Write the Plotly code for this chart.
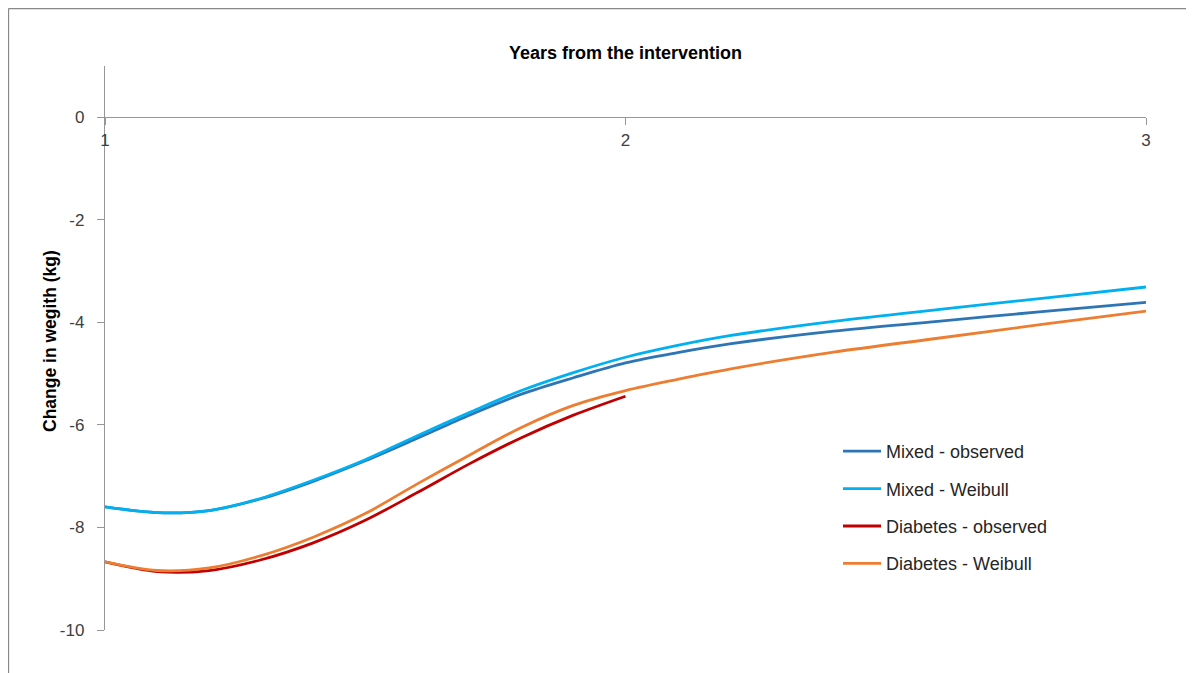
import plotly.graph_objects as go

# ---- data ----
x_full = [1.0, 1.1, 1.2, 1.3, 1.4, 1.5, 1.6, 1.7, 1.8, 1.9, 2.0, 2.1, 2.2, 2.4, 2.6, 2.8, 3.0]
x_half = [1.0, 1.1, 1.2, 1.3, 1.4, 1.5, 1.6, 1.7, 1.8, 1.9, 2.0]

mixed_observed = [-7.60, -7.71, -7.67, -7.44, -7.10, -6.70, -6.26, -5.81, -5.40, -5.08, -4.79,
                  -4.59, -4.42, -4.17, -3.98, -3.79, -3.61]
mixed_weibull = [-7.60, -7.71, -7.67, -7.43, -7.08, -6.68, -6.21, -5.76, -5.33, -4.98, -4.68,
                 -4.45, -4.26, -3.98, -3.75, -3.53, -3.31]
diabetes_observed = [-8.67, -8.86, -8.84, -8.63, -8.30, -7.86, -7.32, -6.76, -6.25, -5.81, -5.44]
diabetes_weibull = [-8.67, -8.84, -8.79, -8.55, -8.19, -7.73, -7.15, -6.59, -6.05, -5.62, -5.33,
                    -5.11, -4.91, -4.58, -4.31, -4.04, -3.78]

series_names = ["Mixed - observed", "Mixed - Weibull", "Diabetes - observed", "Diabetes - Weibull"]
series_colors = ["#2E75B6", "#00B0F0", "#C00000", "#ED7D31"]

x_ticks = [1, 2, 3]
y_ticks = [0, -2, -4, -6, -8, -10]

FONT = "Liberation Sans"

fig = go.Figure()
for name, xs, ys, col in zip(series_names,
                             [x_full, x_full, x_half, x_full],
                             [mixed_observed, mixed_weibull, diabetes_observed, diabetes_weibull],
                             series_colors):
    fig.add_trace(go.Scatter(x=xs, y=ys, name=name, mode="lines",
                             line=dict(color=col, width=2.8, shape="spline", smoothing=0.9),
                             legendgroup=name))

# page has an 8px body margin; figure occupies page px 8..1194
OFF = 8
W, H = 1186, 665
L, R, T, B = 105 - OFF, 48, 66 - OFF, 43
pw, ph = W - L - R, H - T - B

def px_to_paper_x(page_px):
    return (page_px - OFF - L) / pw

def px_to_paper_y(page_py):
    return 1 - (page_py - OFF - T) / ph

y_min, y_max = -10, 1
zero_pos = (0 - y_min) / (y_max - y_min)

fig.update_layout(
    width=W, height=H,
    margin=dict(l=L, r=R, t=T, b=B, pad=0),
    paper_bgcolor="white", plot_bgcolor="white",
    font=dict(family=FONT, size=17, color="#404040"),
    showlegend=True,
    legend=dict(x=px_to_paper_x(838), y=px_to_paper_y(433), xanchor="left", yanchor="top",
                font=dict(family=FONT, size=18, color="#262626"),
                itemwidth=38,
                bgcolor="rgba(0,0,0,0)", tracegroupgap=11, traceorder="grouped"),
    xaxis=dict(range=[1, 3], tickvals=x_ticks, ticktext=[str(v) for v in x_ticks],
               anchor="free", position=zero_pos, side="bottom",
               showline=True, linecolor="#969696", linewidth=1.3,
               ticks="outside", ticklen=7, tickcolor="#969696",
               showgrid=False, zeroline=False,
               tickfont=dict(family=FONT, size=17, color="#404040")),
    yaxis=dict(range=[y_min, y_max], tickvals=y_ticks, ticktext=[str(v) for v in y_ticks],
               showline=True, linecolor="#969696", linewidth=1.3,
               ticks="outside", ticklen=7, tickcolor="#969696",
               ticklabelstandoff=9,
               showgrid=False, zeroline=False,
               tickfont=dict(family=FONT, size=17, color="#404040")),
    annotations=[
        dict(text="<b>Years from the intervention</b>", xref="paper", yref="paper",
             x=0.5, y=px_to_paper_y(53), xanchor="center", yanchor="middle",
             showarrow=False, font=dict(family=FONT, size=18, color="#000000")),
        dict(text="<b>Change in wegith (kg)</b>", xref="paper", yref="paper",
             x=px_to_paper_x(50), y=px_to_paper_y(341), xanchor="center", yanchor="middle",
             textangle=-90, showarrow=False,
             font=dict(family=FONT, size=17.5, color="#000000")),
    ],
    shapes=[
        dict(type="line", xref="paper", yref="paper",
             x0=px_to_paper_x(8.5), y0=px_to_paper_y(8.5), x1=px_to_paper_x(1220), y1=px_to_paper_y(8.5),
             line=dict(color="#888888", width=1.3)),
        dict(type="line", xref="paper", yref="paper",
             x0=px_to_paper_x(8.5), y0=px_to_paper_y(8.5), x1=px_to_paper_x(8.5), y1=px_to_paper_y(700),
             line=dict(color="#888888", width=1.3)),
    ],
)

fig.write_html("out.html")
